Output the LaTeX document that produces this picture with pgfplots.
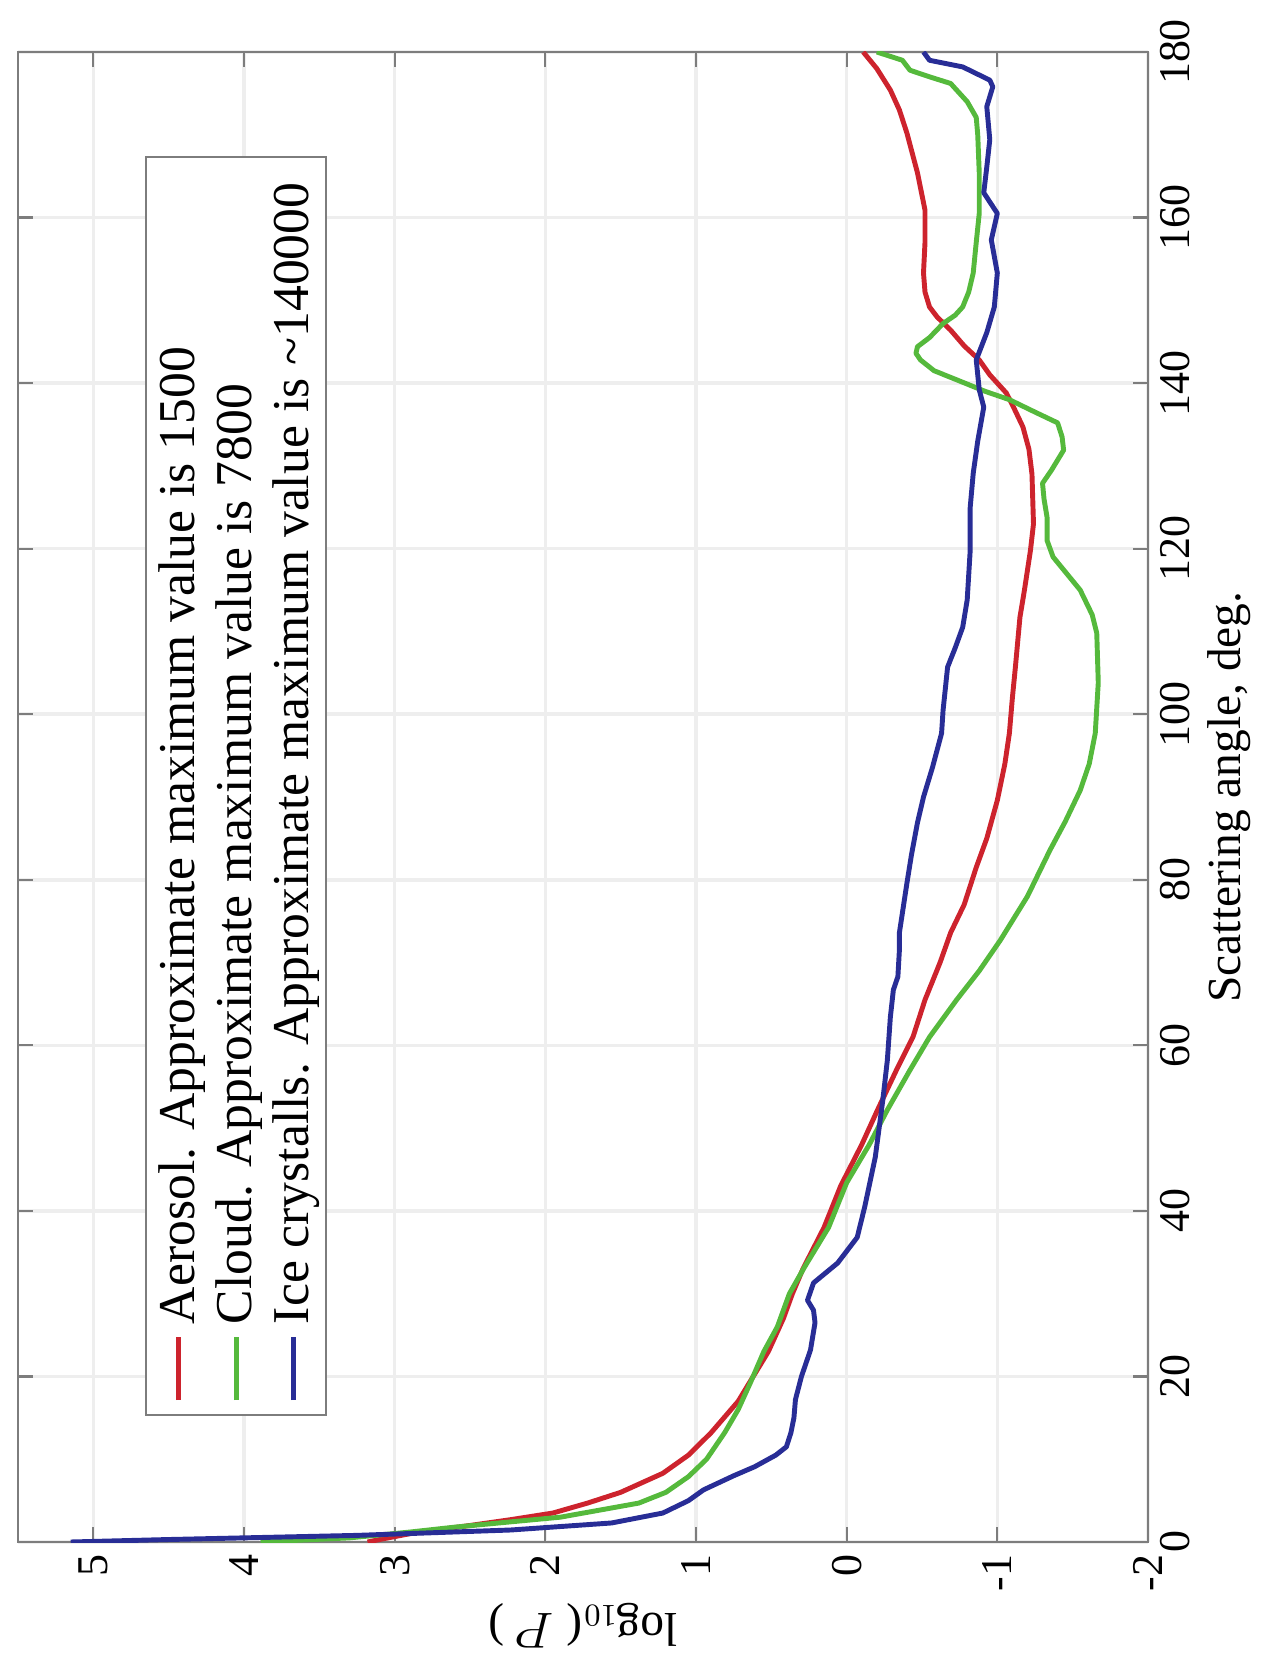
\documentclass[border=0pt]{standalone}
\usepackage{pgfplots}
\pgfplotsset{compat=1.18}
\usepackage{fontspec}
\setmainfont{Liberation Serif}
\definecolor{cred}{RGB}{205,35,45}
\definecolor{cgreen}{RGB}{85,185,60}
\definecolor{cblue}{RGB}{40,45,150}
\definecolor{frame}{RGB}{125,125,125}
\begin{document}
\begin{tikzpicture}[rotate=90, transform shape]
\begin{axis}[
  scale only axis, width=14.90cm, height=11.30cm,
  xmin=0, xmax=180, ymin=-2, ymax=5.5,
  xtick={0,20,...,180}, ytick={-2,-1,...,5},
  grid=major, major grid style={gray!13, line width=1pt},
  axis line style={frame, line width=0.6pt},
  tick style={frame, line width=0.6pt},
  major tick length=0.15cm,
  tick align=inside, tick pos=both,
  tick label style={font=\fontsize{12.5}{14}\selectfont},
  /pgf/number format/assume math mode=true,
  xlabel={Scattering angle, deg.},
  ylabel={log$_{10}$( $P$ )},
  label style={font=\fontsize{13.5}{16}\selectfont},
  xlabel style={at={(axis description cs:0.5,-0.0715)}, anchor=center},
  ylabel style={at={(axis description cs:-0.056,0.5)}, anchor=center},
  legend style={at={(0.0846,0.8876)}, anchor=north west, draw=frame, line width=0.6pt,
    fill=white, font=\fontsize{14.7}{17}\selectfont, row sep=1.6pt, column sep=1.5pt,
    inner xsep=3.5pt, inner ysep=2pt, nodes={inner sep=1.5pt}, cells={anchor=west}},
  legend image code/.code={\draw[#1] (0cm,0cm) -- (0.63cm,0cm);},
  every axis plot/.append style={line width=1.4pt, line join=round},
]
\addplot[cred] coordinates {
(0,3.18) (0.3,3.1) (1,2.9) (2,2.5) (2.7,2.23) (3.5,1.95) (4.7,1.72) (6,1.5) (8.3,1.22)
(10.5,1.05) (13.2,0.9) (17,0.72) (20,0.62) (23,0.52) (27,0.42) (30,0.36) (33,0.29)
(38,0.15) (43,0.04) (48,-0.1) (52,-0.2) (57,-0.33) (61,-0.44) (65.5,-0.52) (70,-0.62)
(73.6,-0.69) (77,-0.78) (81.5,-0.86) (85,-0.93) (89.6,-1.0) (94,-1.05) (97.7,-1.08)
(102,-1.10) (105.7,-1.12) (111.7,-1.15) (115,-1.18) (119.8,-1.22) (123,-1.24)
(129,-1.23) (132,-1.21) (134.7,-1.17) (137,-1.11) (138.8,-1.06) (141,-0.95)
(142.8,-0.88) (144.5,-0.78) (146.4,-0.69) (148,-0.6) (149.2,-0.55) (151,-0.52)
(153.3,-0.51) (157,-0.52) (160.9,-0.52) (165.4,-0.47) (170.2,-0.40) (173,-0.35)
(175.4,-0.29) (178,-0.2) (180,-0.11)
};
\addlegendentry{\makebox[11.5cm][l]{Aerosol. Approximate maximum value is 1500}}
\addplot[cgreen] coordinates {
(0,3.89) (0.5,3.3) (1.2,2.9) (1.8,2.6) (3.0,1.9) (4.7,1.38) (6,1.2) (7.9,1.05)
(10,0.93) (13.2,0.81) (16,0.72) (19.2,0.64) (23,0.55) (26,0.46) (30,0.38) (33.2,0.28)
(38,0.12) (43.4,0.0) (48,-0.15) (52.2,-0.27) (57,-0.42) (61,-0.55) (65.5,-0.73)
(69,-0.88) (72.7,-1.02) (78,-1.2) (83.6,-1.35) (87,-1.45) (90.8,-1.55) (94,-1.61)
(97.7,-1.65) (103.8,-1.67) (109.8,-1.66) (112,-1.63) (115,-1.55) (117,-1.46)
(119,-1.37) (121,-1.33) (123.8,-1.33) (126,-1.31) (127.9,-1.30) (129.5,-1.36)
(131.9,-1.44) (133.5,-1.43) (135.2,-1.40) (136.5,-1.25) (138,-1.08) (139,-0.92)
(140.4,-0.73) (141.5,-0.58) (142.8,-0.49) (143.6,-0.46) (144.4,-0.47) (145.5,-0.55)
(147.2,-0.64) (148.2,-0.72) (149.2,-0.77) (151,-0.81) (153.3,-0.84) (157,-0.86)
(160.5,-0.88) (165.4,-0.88) (170,-0.87) (172.1,-0.86) (174,-0.80) (176.2,-0.69)
(177,-0.55) (177.8,-0.42) (179,-0.37) (180,-0.20)
};
\addlegendentry{\makebox[11.5cm][l]{Cloud. Approximate maximum value is 7800}}
\addplot[cblue] coordinates {
(0,5.15) (0.3,4.5) (0.8,3.25) (1.45,2.23) (2.3,1.56) (3.5,1.22) (5,1.05) (6.3,0.95)
(8,0.75) (9.1,0.61) (10.5,0.47) (11.5,0.40) (13.2,0.37) (15,0.35) (17.2,0.34)
(20,0.30) (23.2,0.24) (26.5,0.21) (28,0.22) (29.2,0.26) (31.3,0.22) (33.7,0.06)
(36.8,-0.07) (40.5,-0.12) (46.5,-0.19) (53.4,-0.24) (58.2,-0.27) (63.4,-0.29)
(66.7,-0.31) (68.3,-0.34) (71.5,-0.35) (73.6,-0.35) (79.6,-0.40) (83,-0.43)
(86.9,-0.47) (90,-0.51) (93.6,-0.57) (97.7,-0.63) (100.5,-0.64) (105.7,-0.67)
(108,-0.72) (110.5,-0.77) (113.8,-0.80) (119.8,-0.82) (125,-0.82) (129.1,-0.84)
(133,-0.87) (137.1,-0.91) (139.2,-0.88) (142.8,-0.86) (146.1,-0.93) (149.2,-0.98)
(153.3,-1.0) (157.3,-0.96) (160.5,-1.0) (163,-0.91) (166.1,-0.93) (169.4,-0.95)
(173.4,-0.93) (175.8,-0.97) (176.6,-0.95) (178.2,-0.77) (179,-0.55) (180,-0.51)
};
\addlegendentry{\makebox[11.5cm][l]{Ice crystalls. Approximate maximum value is \textasciitilde140000}}
\end{axis}
\path (-1.34cm,-1.13cm) rectangle (15.42cm,11.48cm);
\end{tikzpicture}
\end{document}
